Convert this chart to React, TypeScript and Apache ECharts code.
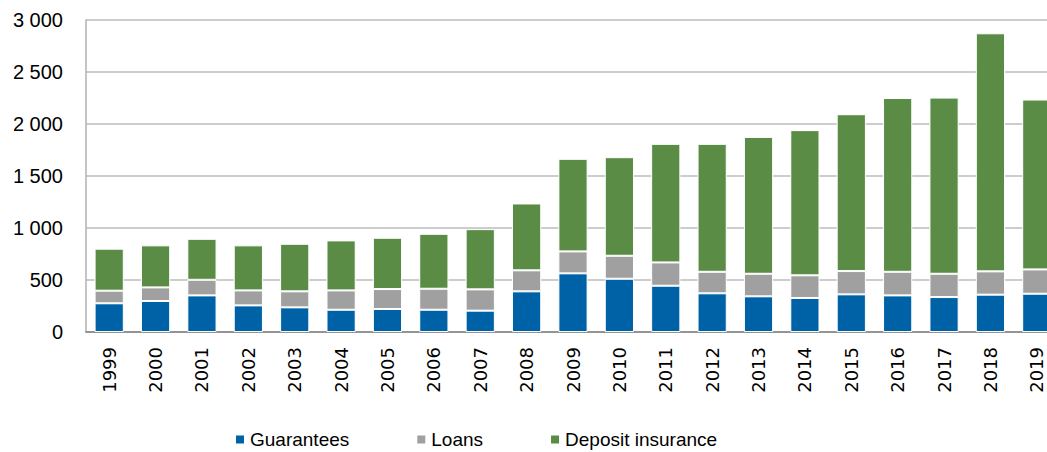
import React, { useEffect, useRef } from "react";
import * as echarts from "echarts";

const years = ["1999","2000","2001","2002","2003","2004","2005","2006","2007","2008","2009","2010","2011","2012","2013","2014","2015","2016","2017","2018","2019"];
const guarantees = [276,298,352,256,237,214,221,214,205,391,564,512,445,372,343,327,362,352,336,359,368];
const loans = [121,131,150,144,154,186,192,202,205,202,211,221,224,207,217,218,224,227,224,224,234];
const depositInsurance = [404,404,394,433,457,481,493,528,579,643,890,948,1140,1230,1316,1396,1508,1671,1694,2289,1633];

const seriesNames = ["Guarantees", "Loans", "Deposit insurance"];
const colors = ["#0062a6", "#a0a0a0", "#5a8c45"];

export default function App() {
  const ref = useRef<HTMLDivElement>(null);
  useEffect(() => {
    if (!ref.current) return;
    const chart = echarts.init(ref.current, null, { renderer: "svg" });
    const data = [guarantees, loans, depositInsurance];
    chart.setOption({
      animation: false,
      backgroundColor: "#ffffff",
      grid: { left: 86, top: 20, bottom: 120, right: 0, containLabel: false },
      legend: {
        left: 229,
        top: 425,
        itemWidth: 10,
        itemHeight: 10,
        itemGap: 66,
        icon: "rect",
        textStyle: { fontFamily: "Liberation Sans", fontSize: 19, color: "#000" },
        data: seriesNames,
      },
      xAxis: {
        type: "category",
        data: years,
        axisLine: { show: true, lineStyle: { color: "#808080", width: 1.5 } },
        axisTick: { show: false },
        axisLabel: {
          rotate: 90,
          margin: 15,
          fontFamily: "DejaVu Sans",
          fontSize: 18,
          color: "#000",
          interval: 0,
        },
      },
      yAxis: {
        type: "value",
        min: 0,
        max: 3000,
        interval: 500,
        axisLine: { show: true, lineStyle: { color: "#b0b0b0", width: 1.5 } },
        axisTick: { show: false },
        splitLine: { show: true, lineStyle: { color: "#bdbdbd", width: 1.5 } },
        axisLabel: {
          margin: 23,
          fontFamily: "Liberation Sans",
          fontSize: 20,
          color: "#000",
          formatter: (v: number) => String(v).replace(/\B(?=(\d{3})+(?!\d))/g, " "),
        },
      },
      series: seriesNames.map((name, i) => ({
        name,
        type: "bar",
        stack: "total",
        barWidth: "63%",
        itemStyle: { color: colors[i], borderColor: "#ffffff", borderWidth: 1 },
        data: data[i],
      })),
    });
    return () => chart.dispose();
  }, []);
  return (
    <div
      ref={ref}
      style={{ position: "fixed", left: 0, top: 0, width: 1060, height: 452, background: "#fff" }}
    />
  );
}
